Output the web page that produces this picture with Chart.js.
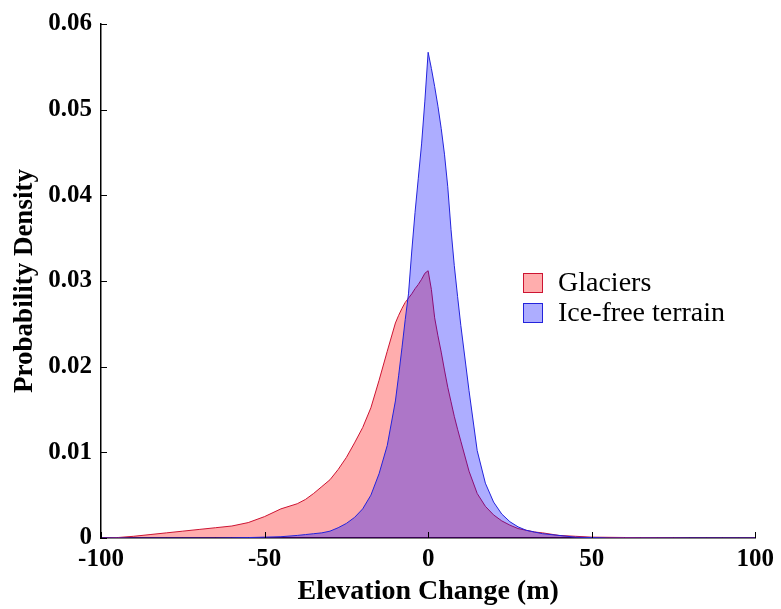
<!DOCTYPE html>
<html>
<head>
<meta charset="utf-8">
<script src="https://cdn.jsdelivr.net/npm/chart.js@4"></script>
<style>
html,body{margin:0;padding:0;background:#fff;}
#wrap{width:781px;height:609px;}
</style>
</head>
<body>
<div id="wrap"><canvas id="c" width="781" height="609"></canvas></div>
<script>
// ---- data ----
const elevationChange = [-100,-95,-90,-85,-80,-75,-70,-65,-60,-55,-50,-45,-40,-37.5,-35,-32.5,-30,-27.5,-25,-22.5,-20,-17.5,-15,-12.5,-10,-9,-8,-7,-6,-5,-4,-3,-2,-1,0,1,2,3,4,5,6,7,8,9,10,12.5,15,17.5,20,22.5,25,27.5,30,32.5,35,40,45,50,55,60,65,70,75,80,85,90,95,100];
const glaciers = [0,0.00005,0.0002,0.0004,0.0006,0.0008,0.0010,0.0012,0.0014,0.0018,0.0025,0.0034,0.0040,0.0045,0.0052,0.0060,0.0068,0.0080,0.0094,0.0111,0.0129,0.0152,0.0184,0.0218,0.0251,0.0260,0.0268,0.0275,0.0280,0.0285,0.0291,0.0296,0.0302,0.0309,0.0312,0.0290,0.0257,0.0236,0.0217,0.0196,0.0176,0.0159,0.0142,0.0127,0.0113,0.0078,0.0052,0.0037,0.0027,0.0020,0.0015,0.0011,0.0009,0.0007,0.0006,0.0003,0.0002,0.0001,0.00008,0.00006,0.00004,0.00003,0.00002,0,0,0,0,0];
const iceFree = [0,0,0,0,0,0,0,0,0.00002,0.00005,0.0001,0.00015,0.0003,0.0004,0.0005,0.0006,0.0008,0.0012,0.0017,0.0024,0.0034,0.0050,0.0075,0.0108,0.0160,0.0190,0.0222,0.0255,0.0285,0.0335,0.0380,0.0420,0.0460,0.0510,0.0567,0.0548,0.0527,0.0504,0.0478,0.0448,0.0410,0.0360,0.0318,0.0282,0.0248,0.0172,0.0102,0.0064,0.0042,0.0028,0.0019,0.0013,0.0009,0.0007,0.0005,0.0003,0.0001,0.00005,0,0,0,0,0,0,0,0,0,0];
const seriesNames = ['Glaciers','Ice-free terrain'];
const xTickValues = [-100,-50,0,50,100];
const xTickLabels = ['-100','-50','0','50','100'];
const yTickValues = [0,0.01,0.02,0.03,0.04,0.05,0.06];
const yTickLabels = ['0','0.01','0.02','0.03','0.04','0.05','0.06'];
const xTitle = 'Elevation Change (m)';
const yTitle = 'Probability Density';

const redFill = 'rgba(255,0,0,0.32)', redLine = 'rgb(205,20,50)';
const blueFill = 'rgba(0,0,255,0.32)', blueLine = 'rgb(35,35,220)';
const serif = '"Liberation Serif","Times New Roman",serif';

const toPts = ys => elevationChange.map((x,i)=>({x:x,y:ys[i]}));

const inwardTicks = {
  id:'inwardTicks',
  afterDraw(chart){
    const ctx = chart.ctx, xs = chart.scales.x, ys = chart.scales.y, a = chart.chartArea;
    ctx.save();
    ctx.strokeStyle = '#000'; ctx.lineWidth = 1;
    xTickValues.forEach(v=>{
      const p = Math.round(xs.getPixelForValue(v))+0.5;
      ctx.beginPath(); ctx.moveTo(p,a.bottom); ctx.lineTo(p,a.bottom-6); ctx.stroke();
    });
    yTickValues.forEach(v=>{
      const p = Math.round(ys.getPixelForValue(v))+0.5;
      ctx.beginPath(); ctx.moveTo(a.left,p); ctx.lineTo(a.left+6,p); ctx.stroke();
    });
    // legend
    const items = [[redFill,redLine],[blueFill,blueLine]];
    ctx.font = '28px ' + serif;
    ctx.textBaseline = 'middle';
    ctx.textAlign = 'left';
    items.forEach((it,i)=>{
      const bx = 523, by = 273 + i*30;
      ctx.fillStyle = '#fff'; ctx.fillRect(bx,by,20,20);
      ctx.fillStyle = it[0]; ctx.fillRect(bx,by,20,20);
      ctx.strokeStyle = it[1]; ctx.lineWidth = 1; ctx.strokeRect(bx+0.5,by+0.5,19,19);
      ctx.fillStyle = '#000';
      ctx.fillText(seriesNames[i], 558, by+11);
    });
    ctx.restore();
  }
};

new Chart(document.getElementById('c'), {
  type:'line',
  data:{
    datasets:[
      {label:seriesNames[0], data:toPts(glaciers), borderColor:redLine, backgroundColor:redFill, borderWidth:1, fill:'origin', pointRadius:0, tension:0, order:2},
      {label:seriesNames[1], data:toPts(iceFree), borderColor:blueLine, backgroundColor:blueFill, borderWidth:1, fill:'origin', pointRadius:0, tension:0, order:1}
    ]
  },
  options:{
    responsive:false, animation:false,
    layout:{padding:{left:0,right:23,top:17,bottom:0}},
    plugins:{legend:{display:false}, tooltip:{enabled:false}},
    scales:{
      x:{
        type:'linear', min:-100, max:100,
        afterBuildTicks(s){ s.ticks = xTickValues.map(v=>({value:v})); },
        afterFit(s){ s.height = 71; },
        grid:{display:true, drawOnChartArea:false, drawTicks:false},
        border:{display:true, color:'#000', width:1.5},
        ticks:{padding:7, color:'#000', font:{family:serif, size:25, weight:'bold'}, maxRotation:0, autoSkip:false,
          callback:(v)=>{const i=xTickValues.indexOf(v); return i>=0?xTickLabels[i]:'';}},
        title:{display:true, text:xTitle, color:'#000', font:{family:serif, size:28, weight:'bold'}, padding:{top:0,bottom:0}}
      },
      y:{
        type:'linear', min:0, max:0.06,
        afterBuildTicks(s){ s.ticks = yTickValues.map(v=>({value:v})); },
        afterFit(s){ s.width = 101; },
        grid:{display:true, drawOnChartArea:false, drawTicks:false},
        border:{display:true, color:'#000', width:1.5},
        ticks:{padding:9, color:'#000', font:{family:serif, size:25, weight:'bold'}, autoSkip:false,
          callback:(v)=>{const i=yTickValues.findIndex(t=>Math.abs(t-v)<1e-9); return i>=0?yTickLabels[i]:'';}},
        title:{display:true, text:yTitle, color:'#000', font:{family:serif, size:27, weight:'bold'}, padding:{top:9,bottom:0}}
      }
    }
  },
  plugins:[inwardTicks]
});
</script>
</body>
</html>
